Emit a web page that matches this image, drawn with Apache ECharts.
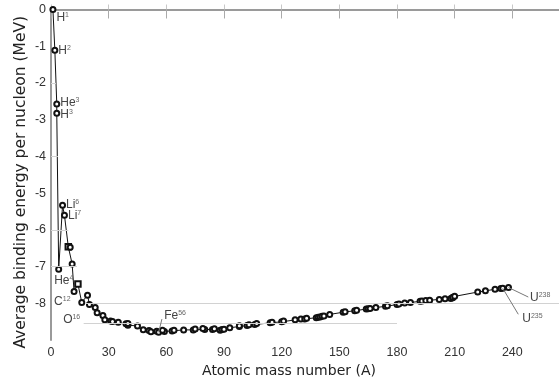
<!DOCTYPE html>
<html><head><meta charset="utf-8">
<script src="https://cdn.jsdelivr.net/npm/echarts@6/dist/echarts.min.js"></script>
<style>html,body{margin:0;padding:0;background:#fff}#c{width:559px;height:381px}</style>
</head><body><div id="c"></div>
<script>
// ---- data ----
const isotopes = ['H1','H2','He3','H3','He4','Li6','Li7','Be9','B10','B11','C12','N14','O16','F19','Ne20','Na23','Mg24','Al27','Si28','P31','S32','Cl35','Ar40','K39','Ca40','Sc45','Ti48','V51','Cr52','Mn55','Fe56','Co59','Ni58','Cu63','Zn64','Ga69','Ge74','As75','Se80','Br79','Kr84','Rb85','Sr88','Y89','Zr90','Nb93','Mo98','Tc98','Ru102','Rh103','Pd106','Ag107','Cd114','In115','Sn120','Sb121','Te130','I127','Xe132','Cs133','Ba138','La139','Ce140','Pr141','Nd142','Pm145','Sm152','Eu153','Gd158','Tb159','Dy164','Ho165','Er166','Tm169','Yb174','Lu175','Hf180','Ta181','W184','Re187','Os192','Ir193','Pt195','Au197','Hg202','Tl205','Pb208','Bi209','Po209','At210','Rn222','Ra226','Pa231','U234','U235','U238'];
const massNumbers = [1,2,3,3,4,6,7,9,10,11,12,14,16,19,20,23,24,27,28,31,32,35,40,39,40,45,48,51,52,55,56,59,58,63,64,69,74,75,80,79,84,85,88,89,90,93,98,98,102,103,106,107,114,115,120,121,130,127,132,133,138,139,140,141,142,145,152,153,158,159,164,165,166,169,174,175,180,181,184,187,192,193,195,197,202,205,208,209,209,210,222,226,231,234,235,238];
const bindingEnergy = [0,-1.112,-2.573,-2.827,-7.074,-5.332,-5.606,-6.463,-6.475,-6.928,-7.680,-7.476,-7.976,-7.779,-8.032,-8.112,-8.261,-8.332,-8.448,-8.481,-8.493,-8.520,-8.595,-8.557,-8.551,-8.619,-8.723,-8.742,-8.776,-8.765,-8.790,-8.768,-8.732,-8.752,-8.736,-8.725,-8.725,-8.701,-8.711,-8.688,-8.717,-8.697,-8.733,-8.714,-8.710,-8.664,-8.635,-8.610,-8.607,-8.584,-8.580,-8.554,-8.532,-8.516,-8.505,-8.482,-8.430,-8.446,-8.428,-8.410,-8.393,-8.378,-8.376,-8.354,-8.346,-8.303,-8.244,-8.229,-8.202,-8.189,-8.159,-8.147,-8.142,-8.115,-8.084,-8.069,-8.035,-8.023,-7.993,-7.978,-7.948,-7.938,-7.927,-7.916,-7.897,-7.878,-7.868,-7.848,-7.835,-7.812,-7.694,-7.662,-7.618,-7.600,-7.591,-7.570];
const xTickValues = [0,30,60,90,120,150,180,210,240];
const yTickValues = [0,-1,-2,-3,-4,-5,-6,-7,-8];
// labelled isotopes: symbol, mass number superscript
const labelledIsotopes = {H1:['H','1'],H2:['H','2'],He3:['He','3'],H3:['H','3'],Li6:['Li','6'],Li7:['Li','7'],He4:['He','4'],C12:['C','12'],O16:['O','16'],Fe56:['Fe','56'],U238:['U','238'],U235:['U','235']};
// reference lines: [energy, fromA, toA]
const referenceLines = [[-2,0,2.6],[-4,0,3.6],[-6,0,9],[-7,0,13.5],[-8,18,270],[-8.55,17,180]];
// leader lines: [isotope, [A,E] end]
const leaderEnds = {Fe56:[57.7,-8.43], U238:[248.3,-7.83], U235:[243.1,-8.30]};

// ---- layout / style (not data) ----
const placement = {
  H1:{position:'right',offset:[0,8]}, H2:{position:'right',offset:[0,0]},
  He3:{position:'right',offset:[0,-1]}, H3:{position:'right',offset:[0,1]},
  Li6:{position:'right',offset:[0,-1]}, Li7:{position:'right',offset:[0,0]},
  He4:{position:'right',offset:[-8,11]}, C12:{position:'left',offset:[0,10]},
  O16:{position:'left',offset:[2,17]}, Fe56:{position:'right',offset:[2,-17]},
  U238:{position:'right',offset:[18,10]}, U235:{position:'right',offset:[16,30]}
};
const squareMarkers = ['Be9','N14'];

const seriesData = isotopes.map((iso,i)=>{
  const item = {value:[massNumbers[i], bindingEnergy[i]], name: iso};
  if (squareMarkers.includes(iso)) { item.symbol = 'emptyRect'; item.symbolSize = 5.5; }
  if (labelledIsotopes[iso]) {
    const p = placement[iso];
    item.label = {show:true, position:p.position, offset:p.offset, distance:0,
      formatter: '{m|'+labelledIsotopes[iso][0]+'}{s|'+labelledIsotopes[iso][1]+'}'};
  }
  return item;
});

const idx = iso => isotopes.indexOf(iso);
const markData = referenceLines.map(r=>[{coord:[r[1],r[0]]},{coord:[r[2],r[0]]}]);
const leaderData = Object.keys(leaderEnds).map(k=>[
  {coord:[massNumbers[idx(k)], bindingEnergy[idx(k)]]},{coord:leaderEnds[k]}]);

const chart = echarts.init(document.getElementById('c'), null, {renderer:'canvas'});
const axisLine = {show:true, lineStyle:{color:'#9a9a9a', width:2}};
chart.setOption({
  animation:false,
  grid:{left:51, width:519, top:9.5, height:330.5, containLabel:false, outerBoundsMode:'none'},
  xAxis:[{
    type:'value', min:0, max:270, interval:30, position:'bottom',
    axisLine, axisTick:{show:true, inside:true, length:5, lineStyle:{color:'#c8c8c8'}},
    axisLabel:{margin:6, color:'#333', fontFamily:'Liberation Sans', fontSize:12.5,
      formatter:v=>xTickValues.includes(v)?String(v):''},
    splitLine:{show:false},
    name:'Atomic mass number (A)', nameLocation:'middle', nameGap:20,
    nameTextStyle:{fontFamily:'DejaVu Sans', fontSize:14, color:'#222', padding:[0,43,0,0]}
  },{
    type:'value', min:0, max:270, interval:30, position:'top',
    axisLine, axisTick:{show:true, inside:true, length:9, lineStyle:{color:'#aaa'}},
    axisLabel:{show:false}, splitLine:{show:false}
  }],
  yAxis:{
    type:'value', min:-9, max:0, interval:1,
    axisLine, axisTick:{show:false},
    axisLabel:{margin:5, color:'#333', fontFamily:'Liberation Sans', fontSize:12.5,
      formatter:v=>yTickValues.includes(v)?String(v):''},
    splitLine:{show:false},
    name:'Average binding energy per nucleon (MeV)', nameLocation:'middle', nameGap:22,
    nameMoveOverlap:false,
    nameTextStyle:{fontFamily:'DejaVu Sans', fontSize:15.5, color:'#222', padding:[0,15,0,0]}
  },
  series:[{
    type:'line', data:[], z:1, silent:true,
    markLine:{silent:true, symbol:['none','none'], label:{show:false},
      lineStyle:{color:'#d2d2d2', width:1, type:'solid'}, data:markData}
  },{
    type:'line', data:[], z:2, silent:true,
    markLine:{silent:true, symbol:['none','none'], label:{show:false},
      lineStyle:{color:'#777', width:1, type:'solid'}, data:leaderData}
  },{
    type:'line', data:seriesData, z:3,
    symbol:'emptyCircle', symbolSize:5, showAllSymbol:true,
    lineStyle:{color:'#111', width:1},
    itemStyle:{color:'#111', borderWidth:1},
    label:{rich:{
      m:{fontFamily:'Liberation Sans', fontSize:12, color:'#444'},
      s:{fontFamily:'Liberation Sans', fontSize:7, color:'#666', verticalAlign:'top'}
    }}
  }]
});
</script></body></html>
